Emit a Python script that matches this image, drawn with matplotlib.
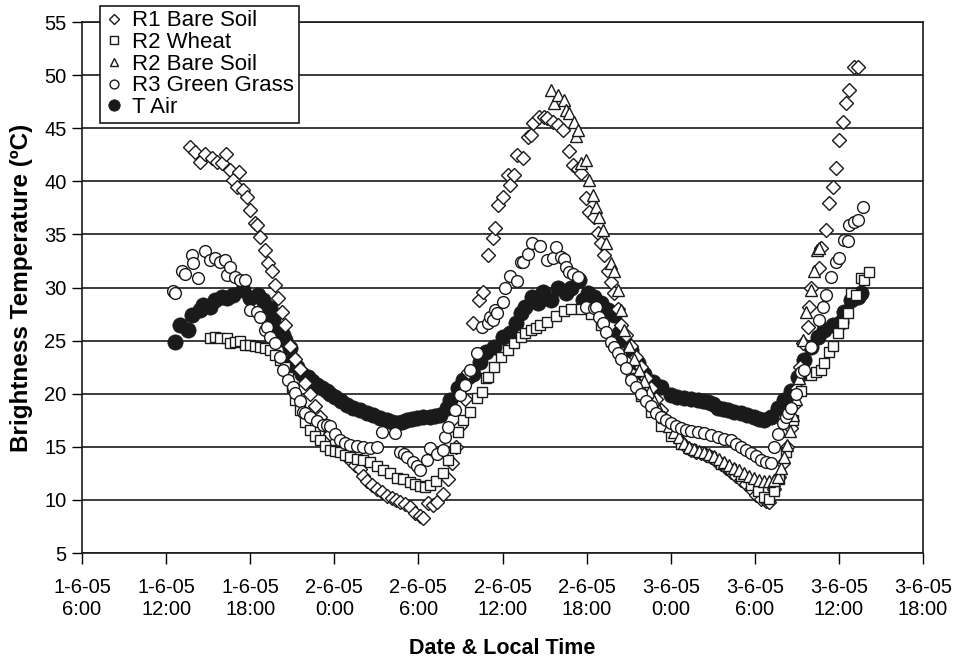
import matplotlib
matplotlib.use("Agg")
import matplotlib.pyplot as plt

plt.rcParams['font.family'] = ['Liberation Sans', 'DejaVu Sans']

# hours since 1-6-05 0:00
r1_t = [13.71, 14.07, 14.43, 14.79, 15.29, 15.64, 16.0, 16.29, 16.57, 16.79, 17.07, 17.21, 17.5, 17.79,
        18.0, 18.36, 18.5, 18.71, 19.07, 19.29, 19.57, 19.79, 20.0, 20.29, 20.5, 20.86, 21.21, 21.57,
        21.93, 22.29, 22.64, 23.0, 23.36, 23.71, 24.07, 24.43, 24.79, 25.14, 25.5, 25.86, 26.07, 26.36,
        26.71, 27.07, 27.43, 27.79, 28.14, 28.43, 28.71, 29.07, 29.43, 29.79, 30.14, 30.36, 30.71, 31.07,
        31.36, 31.79, 32.14, 32.43, 32.71, 33.0, 33.29, 33.57, 33.93, 34.29, 34.64, 35.0, 35.29, 35.5,
        35.71, 36.0, 36.36, 36.57, 36.79, 37.07, 37.43, 37.79, 38.0, 38.21, 38.57, 38.93, 39.21, 39.57,
        39.93, 40.29, 40.71, 41.0, 41.36, 41.57, 41.93, 42.14, 42.5, 42.79, 43.0, 43.21, 43.5, 43.71,
        43.93, 44.21, 44.43, 44.79, 45.14, 45.5, 45.86, 46.21, 46.57, 46.93, 47.29, 47.64, 48.0, 48.36,
        48.71, 49.07, 49.43, 49.79, 50.14, 50.5, 50.86, 51.21, 51.57, 51.93, 52.29, 52.64, 53.0, 53.36,
        53.71, 54.07, 54.43, 54.79, 55.0, 55.36, 55.71, 56.0, 56.29, 56.57, 56.79, 57.0, 57.21, 57.43,
        57.79, 57.86, 58.0, 58.57, 58.71, 59.07, 59.29, 59.57, 59.79, 60.0, 60.29, 60.5, 60.71, 61.07, 61.36]
r1_v = [43.2, 42.8, 41.8, 42.6, 42.2, 41.8, 41.7, 42.6, 41.1, 40.1, 39.5, 40.9, 39.2, 38.5,
        37.3, 36.1, 35.9, 34.8, 33.5, 32.3, 31.6, 30.2, 29.0, 27.7, 26.5, 24.5, 23.3, 22.3,
        21.0, 20.0, 18.8, 17.8, 17.0, 16.2, 15.5, 14.8, 14.3, 13.8, 13.3, 12.9, 12.3, 11.8,
        11.4, 11.0, 10.7, 10.4, 10.2, 10.0, 9.8, 9.6, 9.3, 8.8, 8.5, 8.3, 9.7, 9.5,
        9.8, 10.6, 12.0, 13.5, 15.0, 17.0, 19.5, 22.0, 26.7, 28.8, 29.6, 33.1, 34.7, 35.6,
        37.8, 38.5, 40.6, 39.7, 40.6, 42.5, 42.2, 44.2, 44.4, 45.5, 46.1, 46.1, 46.0, 45.6,
        45.3, 44.8, 42.9, 41.5, 41.2, 40.8, 38.4, 37.1, 36.6, 35.1, 34.2, 33.1, 31.6, 30.5,
        29.5, 28.0, 26.5, 25.5, 24.5, 23.5, 22.5, 21.5, 20.5, 19.5, 18.5, 17.5, 16.7, 16.0,
        15.5, 15.0, 14.7, 14.5, 14.4, 14.2, 14.0, 13.7, 13.4, 13.0, 12.6, 12.3, 11.9, 11.5,
        11.0, 10.5, 10.1, 9.9, 9.8, 11.0, 12.2, 13.5, 15.0, 16.8, 18.9, 20.5, 22.5, 24.8,
        26.3, 28.2, 30.0, 31.8, 33.7, 35.4, 38.0, 39.5, 41.3, 43.9, 45.6, 47.4, 48.6, 50.8, 50.8]

r2w_t = [15.14, 15.5, 15.86, 16.36, 16.57, 16.93, 17.29, 17.64, 18.0, 18.36, 18.71, 19.07, 19.43, 19.79,
         20.14, 20.5, 20.71, 21.0, 21.21, 21.57, 21.93, 22.29, 22.64, 23.0, 23.36, 23.71, 24.07, 24.43,
         24.79, 25.14, 25.64, 26.07, 26.57, 27.07, 27.5, 28.0, 28.5, 28.93, 29.43, 29.79, 30.14, 30.5,
         30.86, 31.29, 31.79, 32.14, 32.64, 32.86, 33.21, 33.71, 34.21, 34.57, 34.79, 35.0, 35.36, 35.86,
         36.36, 36.79, 37.29, 37.64, 38.0, 38.36, 38.71, 39.21, 39.79, 40.36, 40.86, 41.57, 42.29, 43.0,
         43.71, 44.43, 45.14, 45.86, 46.57, 47.29, 48.0, 48.71, 49.43, 50.14, 50.86, 51.57, 52.29, 53.0,
         53.71, 54.21, 54.64, 55.0, 55.36, 55.71, 56.21, 56.71, 57.29, 58.0, 58.36, 58.71, 58.93, 59.29,
         59.57, 59.93, 60.29, 60.64, 60.86, 61.21, 61.57, 61.79, 62.14]
r2w_v = [25.2, 25.3, 25.2, 25.2, 24.8, 24.9, 25.0, 24.6, 24.6, 24.5, 24.4, 24.3, 24.1, 23.6,
         23.2, 22.5, 21.6, 20.6, 19.4, 18.5, 17.3, 16.6, 16.0, 15.6, 15.1, 14.7, 14.6, 14.5,
         14.2, 14.0, 13.9, 13.8, 13.6, 13.2, 12.8, 12.5, 12.1, 12.0, 11.7, 11.5, 11.3, 11.2,
         11.4, 11.8, 12.5, 13.8, 14.9, 16.4, 17.5, 18.3, 19.6, 20.2, 21.5, 21.6, 22.5, 23.5,
         24.1, 24.8, 25.3, 25.7, 26.0, 26.2, 26.5, 26.8, 27.3, 27.8, 28.0, 28.0, 27.5, 26.5,
         25.0, 23.5, 21.5, 19.8, 18.3, 17.0, 16.0, 15.3, 14.8, 14.5, 14.0, 13.4, 12.9, 12.3,
         11.4, 10.8, 10.3, 10.1, 10.8, 12.0, 14.5, 17.5, 20.3, 21.8, 22.0, 22.2, 22.9, 23.9,
         24.5, 25.7, 26.7, 27.6, 29.5, 29.3, 30.9, 30.7, 31.5]

r2b_t = [39.43, 39.64, 39.93, 40.36, 40.5, 40.71, 41.07, 41.21, 41.36, 41.57, 41.93, 42.14, 42.43, 42.64,
         42.86, 43.14, 43.36, 43.71, 43.93, 44.21, 44.43, 44.64, 45.0, 45.36, 45.71, 46.07, 46.43, 46.79,
         47.14, 47.5, 47.86, 48.21, 48.57, 48.93, 49.29, 49.64, 50.0, 50.36, 50.71, 51.07, 51.43, 51.79,
         52.14, 52.5, 52.86, 53.21, 53.57, 53.93, 54.29, 54.64, 55.0, 55.36, 55.64, 55.86, 56.07, 56.29,
         56.5, 56.71, 56.93, 57.14, 57.43, 57.64, 58.0, 58.21, 58.43, 58.57]
r2b_v = [48.6, 47.4, 48.1, 47.7, 46.7, 46.4, 45.6, 44.3, 44.8, 41.7, 42.0, 40.1, 38.7, 37.6,
         36.6, 35.4, 34.2, 32.3, 31.6, 29.8, 27.9, 26.0, 24.5, 23.3, 22.2, 21.2, 20.2, 19.3,
         18.5, 17.8, 17.0, 16.4, 15.9, 15.4, 15.0, 14.8, 14.6, 14.5, 14.3, 14.1, 13.9, 13.6,
         13.3, 13.0, 12.8, 12.5, 12.3, 12.1, 11.9, 11.8, 11.8, 11.9, 12.2, 13.0, 14.0, 15.2,
         16.5, 18.0, 19.5, 21.5, 25.1, 27.7, 29.8, 31.6, 33.5, 33.7]

r3_t = [12.5, 12.64, 13.14, 13.36, 13.86, 13.93, 14.29, 14.79, 15.14, 15.5, 15.86, 16.21, 16.36, 16.57,
        16.93, 17.29, 17.64, 18.0, 18.5, 18.71, 19.07, 19.21, 19.43, 19.79, 20.14, 20.36, 20.71, 21.07,
        21.21, 21.57, 21.79, 21.93, 22.29, 22.79, 23.21, 23.5, 23.71, 24.07, 24.43, 24.79, 25.14, 25.64,
        26.07, 26.57, 27.07, 27.43, 28.36, 28.71, 29.0, 29.21, 29.64, 29.93, 30.14, 30.64, 30.86, 31.36,
        31.79, 31.93, 32.14, 32.64, 33.0, 33.36, 33.71, 34.21, 34.57, 34.93, 35.14, 35.29, 35.5, 35.64,
        36.0, 36.21, 36.57, 37.07, 37.29, 37.43, 37.79, 38.14, 38.71, 39.21, 39.57, 39.79, 40.14, 40.36,
        40.5, 40.71, 41.0, 41.36, 41.93, 42.5, 42.64, 42.86, 43.14, 43.36, 43.71, 43.93, 44.21, 44.43,
        44.79, 45.14, 45.5, 45.86, 46.21, 46.57, 46.93, 47.29, 47.64, 48.0, 48.36, 48.71, 49.07, 49.43,
        49.93, 50.36, 50.86, 51.36, 51.79, 52.29, 52.64, 53.0, 53.36, 53.71, 54.07, 54.43, 54.79, 55.14,
        55.36, 55.64, 56.0, 56.21, 56.36, 56.57, 56.93, 57.29, 57.5, 58.0, 58.57, 58.86, 59.07, 59.43,
        59.79, 60.0, 60.36, 60.64, 60.71, 61.07, 61.36, 61.71]
r3_v = [29.7, 29.5, 31.6, 31.3, 33.1, 32.3, 30.9, 33.4, 32.6, 32.8, 32.4, 32.6, 31.2, 31.9,
        31.0, 30.7, 30.7, 27.9, 27.7, 27.2, 26.0, 26.3, 25.3, 24.8, 23.5, 22.2, 21.3, 20.6,
        20.1, 19.3, 18.3, 18.2, 17.8, 17.4, 17.1, 17.1, 17.0, 16.2, 15.6, 15.4, 15.2, 15.1,
        15.0, 14.9, 15.0, 16.4, 16.3, 14.5, 14.3, 14.0, 13.6, 13.2, 12.8, 13.8, 14.9, 14.3,
        14.7, 15.9, 16.9, 18.5, 19.9, 20.8, 22.2, 23.8, 26.3, 26.7, 27.2, 26.9, 27.9, 27.6,
        28.6, 30.0, 31.1, 30.6, 32.4, 32.4, 33.2, 34.2, 33.9, 32.6, 32.8, 33.8, 32.9, 32.7,
        31.9, 31.5, 31.3, 31.0, 28.2, 28.1, 28.2, 27.2, 26.7, 25.8, 24.9, 24.4, 23.8, 23.3,
        22.4, 21.3, 20.6, 20.0, 19.3, 18.8, 18.2, 17.8, 17.5, 17.2, 17.0, 16.8, 16.6, 16.5,
        16.4, 16.3, 16.1, 15.9, 15.7, 15.6, 15.3, 15.0, 14.7, 14.4, 14.1, 13.8, 13.6, 13.5,
        15.0, 16.2, 17.2, 17.8, 18.2, 18.7, 20.0, 22.0, 22.2, 24.4, 26.9, 28.2, 29.3, 31.0,
        32.4, 32.8, 34.5, 34.4, 35.9, 36.2, 36.4, 37.6]

tair_t = [12.64, 13.0, 13.57, 13.86, 14.43, 14.64, 15.14, 15.5, 16.0, 16.36, 16.79, 17.5, 18.0, 18.57,
          18.93, 19.43, 19.64, 20.0, 20.36, 20.5, 20.86, 21.07, 21.36, 21.71, 22.14, 22.43, 22.79, 23.14,
          23.5, 23.71, 24.07, 24.5, 24.93, 25.36, 25.86, 26.36, 26.79, 27.29, 27.79, 28.14, 28.5, 28.86,
          29.21, 29.57, 29.93, 30.36, 30.86, 31.21, 31.57, 32.07, 32.29, 32.79, 33.21, 33.57, 33.93, 34.43,
          34.79, 35.36, 36.0, 36.57, 36.93, 37.29, 37.64, 38.14, 38.5, 38.86, 39.43, 39.93, 40.5, 40.86,
          41.43, 41.71, 42.07, 42.5, 43.0, 43.5, 43.93, 44.29, 44.64, 45.14, 45.64, 46.07, 46.71, 47.29,
          48.0, 48.43, 48.93, 49.43, 49.93, 50.29, 50.64, 51.0, 51.36, 51.71, 52.07, 52.5, 53.0, 53.43,
          53.93, 54.29, 54.64, 55.14, 55.64, 56.07, 56.57, 57.07, 57.5, 58.0, 58.5, 58.93, 59.57, 60.14,
          60.36, 60.86, 61.36, 61.57]
tair_v = [24.9, 26.5, 26.0, 27.4, 27.9, 28.4, 28.2, 28.8, 29.1, 29.0, 29.3, 29.8, 29.0, 29.3,
          28.8, 28.1, 26.9, 26.0, 25.5, 25.1, 24.3, 23.2, 22.5, 21.9, 21.6, 21.2, 20.8, 20.5,
          20.3, 20.0, 19.7, 19.3, 18.9, 18.7, 18.5, 18.2, 18.0, 17.7, 17.5, 17.3, 17.2, 17.3,
          17.5, 17.6, 17.7, 17.8, 17.8, 17.9, 18.0, 18.7, 19.4, 20.5, 21.3, 21.6, 21.9, 23.0,
          23.9, 24.4, 25.3, 25.7, 26.7, 27.6, 28.2, 29.1, 28.5, 29.6, 28.8, 30.0, 29.5, 30.0,
          30.7, 28.8, 29.5, 29.1, 28.5, 27.9, 27.4, 25.7, 25.1, 24.1, 22.9, 21.9, 21.1, 20.6,
          19.9, 19.7, 19.6, 19.5, 19.4, 19.3, 19.2, 19.0, 18.7, 18.6, 18.5, 18.3, 18.2, 18.0,
          17.8, 17.6, 17.5, 17.8, 18.7, 19.4, 20.3, 21.6, 23.2, 24.4, 25.3, 26.0, 26.5, 26.8,
          27.7, 28.8, 29.1, 29.5]

tick_hours = [6, 12, 18, 24, 30, 36, 42, 48, 54, 60, 66]
tick_labels = ["1-6-05\n6:00", "1-6-05\n12:00", "1-6-05\n18:00", "2-6-05\n0:00", "2-6-05\n6:00",
               "2-6-05\n12:00", "2-6-05\n18:00", "3-6-05\n0:00", "3-6-05\n6:00", "3-6-05\n12:00",
               "3-6-05\n18:00"]

fig = plt.figure(figsize=(9.62, 6.59), dpi=100)
ax = fig.add_axes([0.0852, 0.1608, 0.8743, 0.8058])

ax.plot(tair_t, tair_v, ls='none', marker='o', ms=11, mfc='#1a1a1a', mec='#1a1a1a', mew=0.5,
        label='T Air', zorder=3)
open_kw = dict(ls='none', mfc='white', mec='#1a1a1a', mew=1.0, zorder=4)
ax.plot(r1_t, r1_v, marker='D', ms=7.0, label='R1 Bare Soil', **open_kw)
ax.plot(r2w_t, r2w_v, marker='s', ms=7.0, label='R2 Wheat', **open_kw)
ax.plot(r2b_t, r2b_v, marker='^', ms=8.5, label='R2 Bare Soil', **open_kw)
ax.plot(r3_t, r3_v, marker='o', ms=8.5, label='R3 Green Grass', **open_kw)

ax.set_xlim(6, 66)
ax.set_ylim(5, 55)
ax.set_yticks(range(5, 56, 5))
ax.set_xticks(tick_hours)
ax.set_xticklabels(tick_labels, family=['Liberation Sans Narrow', 'Liberation Sans'], fontsize=14.5)
ax.tick_params(axis='y', labelsize=14.5, direction='out', length=7, width=1, pad=4)
ax.tick_params(axis='x', direction='out', length=8, width=1, pad=10)
ax.yaxis.grid(True, color='#1a1a1a', lw=1.2)
ax.set_axisbelow(True)
for s in ax.spines.values():
    s.set_color('#1a1a1a')
    s.set_linewidth(1.2)

ax.set_ylabel('Brightness Temperature (ºC)', fontsize=17.5, fontweight='bold', labelpad=8)
ax.set_xlabel('Date & Local Time', fontsize=15.5, fontweight='bold', labelpad=14)

hs, ls = ax.get_legend_handles_labels()
order = [1, 2, 3, 4, 0]
leg = fig.legend([hs[i] for i in order], [ls[i] for i in order], loc='upper left',
                 bbox_to_anchor=(100 / 962, 1 - 6 / 659), fontsize=16, frameon=True, fancybox=False,
                 edgecolor='#1a1a1a', framealpha=1, borderpad=0.2, labelspacing=0.03,
                 handlelength=0.9, handletextpad=0.35, markerscale=0.75, borderaxespad=0)
leg.get_frame().set_linewidth(1.2)

fig.savefig('out.png', dpi=100)
